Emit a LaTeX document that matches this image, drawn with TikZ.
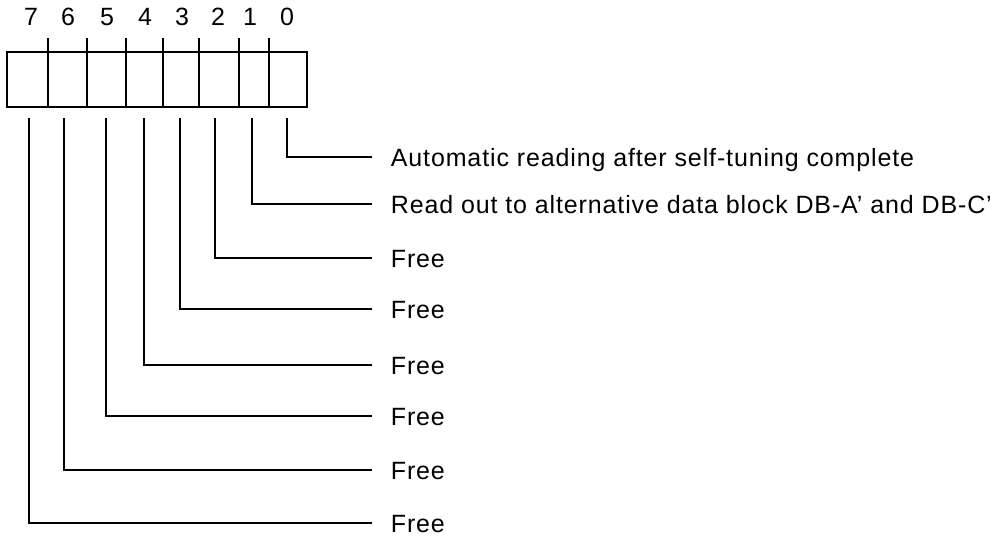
\documentclass[tikz,border=0pt]{standalone}
\usepackage{fontspec}
\setmainfont{Liberation Sans}[LetterSpace=3.5]
\usetikzlibrary{positioning}

\begin{document}
\begin{tikzpicture}[x=1pt,y=-1pt,line width=1.7pt,
  cell/.style={draw,minimum height=55pt,inner sep=0pt,outer sep=0pt},
  bitnum/.style={font=\fontsize{25}{25}\selectfont,text height=18pt,text depth=0pt,inner sep=0pt},
  desc/.style={anchor=west,font=\fontsize{25}{25}\selectfont,text height=18pt,text depth=0pt,inner ysep=0pt,inner xsep=18pt}
]
\useasboundingbox (0,0) rectangle (1008,539);
% register, bit 7 on the left
\node[cell,minimum width=41pt] (c7) at (27.5,79.5) {};
\node[cell,minimum width=39pt] (c6) at (67.5,79.5) {};
\node[cell,minimum width=39pt] (c5) at (106.5,79.5) {};
\node[cell,minimum width=37pt] (c4) at (144.5,79.5) {};
\node[cell,minimum width=36pt] (c3) at (181,79.5) {};
\node[cell,minimum width=40pt] (c2) at (219,79.5) {};
\node[cell,minimum width=30pt] (c1) at (254,79.5) {};
\node[cell,minimum width=38pt] (c0) at (288,79.5) {};
\foreach \c in {c6,c5,c4,c3,c2,c1,c0}
  \draw (\c.north west) -- ++(0,-14);
% bit numbers
\foreach \b/\xn in {7/31,6/68,5/107,4/145,3/182,2/218,1/250,0/287}
  \node[bitnum] (n\b) at (\xn,16) {\b};
% leaders and meanings
\foreach \b/\xl/\yl/\txt in {0/287/157/Automatic reading after self-tuning complete,
    1/252/204/Read out to alternative data block DB-A’ and DB-C’,
    2/215/258/Free,3/180/309/Free,4/144/365/Free,
    5/106/416/Free,6/64/470/Free,7/29/523/Free}{
  \node[desc] (d\b) at (372,\yl) {\txt};
  \coordinate (s\b) at (\xl,118);
  \draw (s\b) |- (d\b.west);
}
\end{tikzpicture}
\end{document}
